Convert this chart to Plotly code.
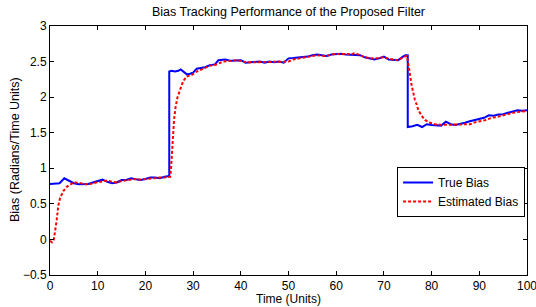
import plotly.graph_objects as go

# True bias
x_true = [0, 1, 2, 3, 4, 5, 6, 7, 8, 9, 10, 11, 12, 13, 14, 15, 16, 17, 18, 19, 20, 21, 22, 23, 24, 25,
          25, 25.5, 26.2, 26.9, 27.4, 28, 28.7, 29.35, 30, 30.75, 31.4, 32.5, 33.5, 34.6, 35.3, 36.7, 38, 39,
          40, 41, 42, 43, 44, 45, 46, 47, 48, 49, 50, 51, 52, 53, 54, 55, 56, 57, 58, 59, 60, 61, 62, 63,
          64, 65, 66, 67, 68, 69, 70, 71, 72, 73, 74, 74.5, 75,
          75, 76, 77, 78, 79, 80, 81, 82, 83, 84, 85, 86, 87, 88, 89, 90, 91, 92, 93, 94, 95, 96, 97, 98, 99, 100]
y_true = [0.78, 0.78, 0.79, 0.86, 0.825, 0.79, 0.775, 0.775, 0.78, 0.80, 0.815, 0.84, 0.81, 0.79, 0.80, 0.835,
          0.835, 0.86, 0.845, 0.835, 0.85, 0.87, 0.87, 0.86, 0.88, 0.89,
          2.36, 2.37, 2.36, 2.37, 2.39, 2.36, 2.32, 2.33, 2.345, 2.40, 2.41, 2.42, 2.45, 2.46, 2.52, 2.53, 2.51, 2.52,
          2.52, 2.485, 2.49, 2.49, 2.50, 2.485, 2.50, 2.49, 2.50, 2.485, 2.545, 2.55, 2.555, 2.56, 2.57, 2.59, 2.60,
          2.59, 2.58, 2.60, 2.61, 2.61, 2.60, 2.60, 2.60, 2.59, 2.56, 2.545, 2.53, 2.545, 2.57, 2.53, 2.52, 2.52,
          2.57, 2.59, 2.59,
          1.58, 1.59, 1.61, 1.58, 1.62, 1.61, 1.61, 1.60, 1.655, 1.62, 1.61, 1.62, 1.64, 1.66, 1.675, 1.69, 1.71,
          1.745, 1.74, 1.755, 1.76, 1.78, 1.80, 1.815, 1.81, 1.815]

# Estimated bias
x_est = [0, 0.4, 0.8, 1.1, 1.4, 1.75, 2.1, 2.8, 3.5, 4.5, 5, 6, 7, 8, 9, 10, 11, 12, 13, 14, 15, 16, 17, 18,
         19, 20, 21, 22, 23, 24, 25, 25.2, 25.4, 25.6, 25.7, 25.85, 26.0, 26.3, 26.7, 27.25, 27.9, 28.6, 29.7,
         30.75, 32.1, 33.5, 34.9, 36.3, 38, 39, 40, 41, 42, 43, 44, 45, 46, 47, 48, 49, 50, 51, 52, 53, 54, 55,
         56, 57, 58, 59, 60, 61, 62, 63, 64, 65, 66, 67, 68, 69, 70, 71, 72, 73, 74, 74.8, 75.1, 75.3, 75.6,
         75.8, 76.2, 76.5, 76.9, 77.2, 77.9, 78.6, 79.7, 80.7, 82.1, 83.9, 85.3, 86.6, 88.1, 89.5, 91.2, 92.6,
         93.6, 95, 96.4, 97.8, 99.6, 100]
y_est = [-0.02, -0.04, 0.0, 0.12, 0.27, 0.48, 0.58, 0.68, 0.74, 0.78, 0.80, 0.795, 0.78, 0.77, 0.79, 0.80,
         0.82, 0.83, 0.81, 0.80, 0.82, 0.83, 0.85, 0.85, 0.84, 0.85, 0.86, 0.86, 0.87, 0.87, 0.88, 0.88, 1.02,
         1.26, 1.40, 1.54, 1.68, 1.85, 1.99, 2.10, 2.22, 2.29, 2.31, 2.36, 2.40, 2.44, 2.46, 2.50, 2.51, 2.52,
         2.51, 2.49, 2.49, 2.49, 2.50, 2.49, 2.50, 2.49, 2.50, 2.49, 2.50, 2.53, 2.54, 2.55, 2.56, 2.58, 2.59,
         2.58, 2.58, 2.60, 2.61, 2.60, 2.61, 2.60, 2.62, 2.59, 2.56, 2.55, 2.54, 2.55, 2.56, 2.54, 2.53, 2.52,
         2.56, 2.58, 2.475, 2.38, 2.265, 2.17, 2.05, 1.96, 1.89, 1.82, 1.74, 1.68, 1.64, 1.62, 1.61, 1.61, 1.62,
         1.62, 1.62, 1.655, 1.675, 1.71, 1.72, 1.745, 1.77, 1.79, 1.80, 1.80]

x_ticks = [0, 10, 20, 30, 40, 50, 60, 70, 80, 90, 100]
y_ticks = [-0.5, 0, 0.5, 1, 1.5, 2, 2.5, 3]

font = "Liberation Sans, Arial, sans-serif"

fig = go.Figure()
fig.add_trace(go.Scatter(x=x_true, y=y_true, mode="lines", name="True Bias",
                         line=dict(color="#0000ff", width=2)))
fig.add_trace(go.Scatter(x=x_est, y=y_est, mode="lines", name="Estimated Bias",
                         line=dict(color="#ff0000", width=2, dash="3px,2px")))

axis_common = dict(showline=True, linecolor="black", linewidth=1, mirror="ticks",
                   ticks="inside", ticklen=4, tickcolor="black", showgrid=False,
                   zeroline=False, automargin=False, ticklabeloverflow="allow",
                   tickfont=dict(family=font, size=12, color="black"))

W, H = 536, 307
ML, MR, MT, MB = 50, 9, 26, 32
pw, ph = W - ML - MR, H - MT - MB

fig.update_layout(
    width=W, height=H,
    margin=dict(l=ML, r=MR, t=MT, b=MB, autoexpand=False),
    paper_bgcolor="white", plot_bgcolor="white",
    title=dict(text="Bias Tracking Performance of the Proposed Filter", x=0.5, xref="paper",
               xanchor="center", y=1 - 12 / H, yanchor="middle",
               font=dict(family=font, size=12.5, color="black")),
    xaxis=dict(range=[0, 100], tickvals=x_ticks, ticktext=[str(v) for v in x_ticks],
               ticklabelstandoff=0, **axis_common),
    yaxis=dict(range=[-0.5, 3], tickvals=y_ticks,
               ticktext=["\u22120.5", "0", "0.5", "1", "1.5", "2", "2.5", "3"],
               **axis_common),
    legend=dict(x=0.996, y=(275 - 167) / ph, xanchor="right", yanchor="top",
                bgcolor="white", bordercolor="black", borderwidth=1,
                font=dict(family=font, size=12, color="black"),
                tracegroupgap=0, itemwidth=30),
    showlegend=True,
    annotations=[
        dict(text="Time (Units)", x=0.5, xref="paper", y=(275 - 299) / ph, yref="paper",
             showarrow=False, font=dict(family=font, size=12, color="black"),
             xanchor="center", yanchor="middle"),
        dict(text="Bias (Radians/Time Units)", x=(15 - ML) / pw, xref="paper",
             y=(275 - 150) / ph, yref="paper", showarrow=False, textangle=-90,
             font=dict(family=font, size=12.5, color="black"),
             xanchor="center", yanchor="middle"),
    ],
)

fig.write_html("out.html", config={"displayModeBar": False},
               post_script="document.body.style.margin='0';document.body.style.overflow='hidden';")
